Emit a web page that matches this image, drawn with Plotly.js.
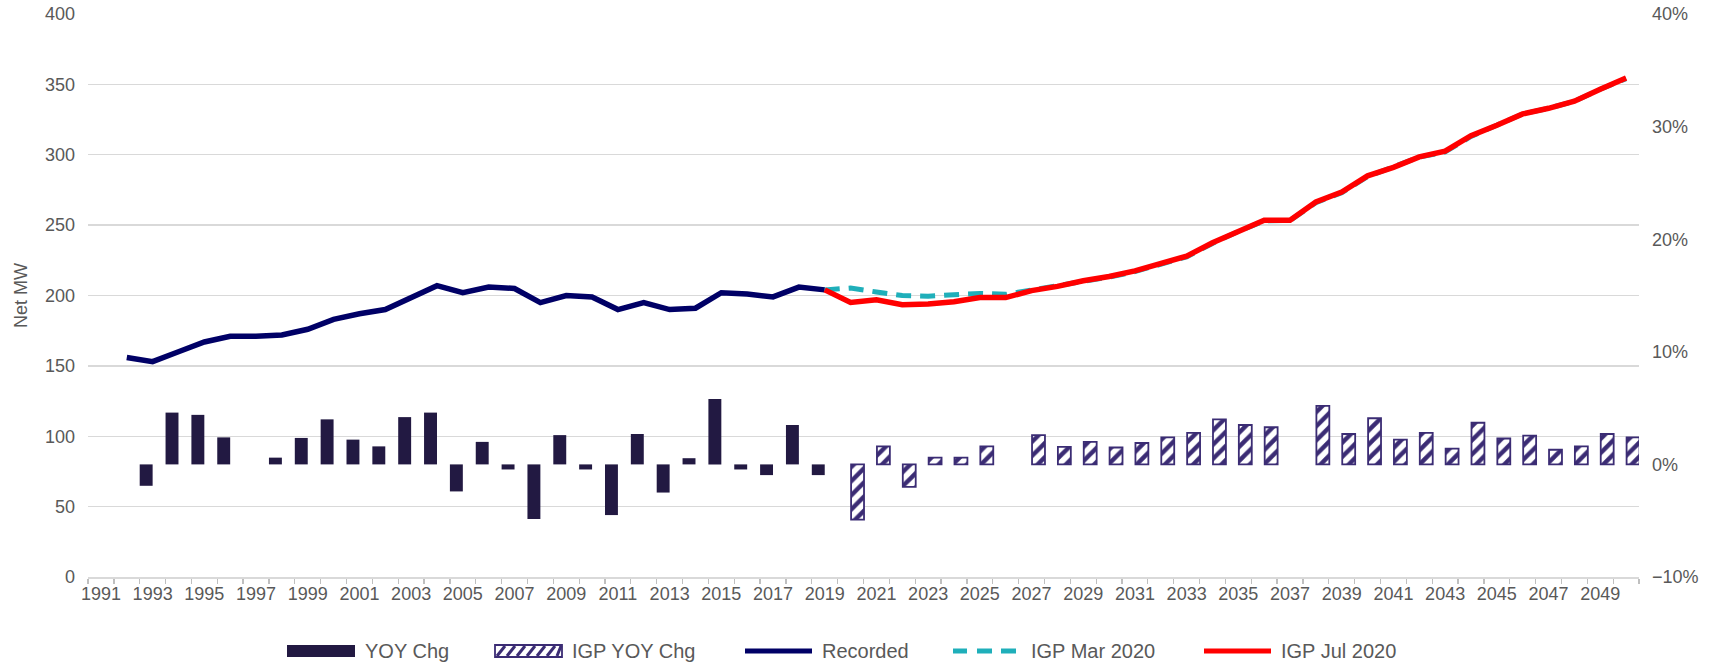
<!DOCTYPE html>
<html>
<head>
<meta charset="utf-8">
<script src="https://cdn.plot.ly/plotly-3.0.1.min.js"></script>
<style>
  html, body { margin: 0; padding: 0; background: #ffffff; }
  #chart { width: 1715px; height: 663px; }
</style>
</head>
<body>
<div id="chart"></div>
<script>
// ---------------- DATA ----------------
const years = ['1991','1992','1993','1994','1995','1996','1997','1998','1999','2000',
  '2001','2002','2003','2004','2005','2006','2007','2008','2009','2010',
  '2011','2012','2013','2014','2015','2016','2017','2018','2019','2020',
  '2021','2022','2023','2024','2025','2026','2027','2028','2029','2030',
  '2031','2032','2033','2034','2035','2036','2037','2038','2039','2040',
  '2041','2042','2043','2044','2045','2046','2047','2048','2049','2050'];

const recordedYears = ['1992','1993','1994','1995','1996','1997','1998','1999','2000','2001',
  '2002','2003','2004','2005','2006','2007','2008','2009','2010','2011',
  '2012','2013','2014','2015','2016','2017','2018','2019'];
const recorded = [156,153,160,167,171,171,172,176,183,187,
  190,198,207,202,206,205,195,200,199,190,
  195,190,191,202,201,199,206,204];

const yoyYears = ['1993','1994','1995','1996','1997','1998','1999','2000','2001','2002',
  '2003','2004','2005','2006','2007','2008','2009','2010','2011','2012',
  '2013','2014','2015','2016','2017','2018','2019'];
const yoyChg = [-1.9,4.6,4.4,2.4,null,0.6,2.35,4.0,2.2,1.6,
  4.2,4.6,-2.4,2.0,-0.45,-4.85,2.6,-0.45,-4.5,2.7,
  -2.5,0.55,5.8,-0.45,-0.95,3.5,-0.95];

const igpYoyYears = ['2020','2021','2022','2023','2024','2025','2026','2027','2028','2029',
  '2030','2031','2032','2033','2034','2035','2036','2037','2038','2039',
  '2040','2041','2042','2043','2044','2045','2046','2047','2048','2049','2050'];
const igpYoyChg = [-4.9,1.6,-2.0,0.6,0.6,1.6,null,2.6,1.55,2.0,
  1.5,1.9,2.4,2.8,4.0,3.5,3.3,null,5.2,2.7,
  4.1,2.2,2.8,1.4,3.7,2.3,2.55,1.3,1.6,2.7,2.4];

const forecastYears = ['2019','2020','2021','2022','2023','2024','2025','2026','2027','2028',
  '2029','2030','2031','2032','2033','2034','2035','2036','2037','2038',
  '2039','2040','2041','2042','2043','2044','2045','2046','2047','2048','2049','2050'];
const igpMar2020 = [204,205.3,202.5,200,199.5,200.3,201.5,200.8,204.3,207,
  210,213,217,222,227.5,237,245.5,253,253.3,266,
  273,284.5,291,298.3,302,313,321,329,333,338,346.5,354];
const igpJul2020 = [204,195,197,193.5,194,195.5,198.5,198.5,203.5,206.5,
  210.5,213.5,217.5,222.5,228,237.5,246,253.5,253.5,266.5,
  273.5,285,291,298.5,302.5,313.5,321,329,333,338,346.5,354.5];

const dividerYear = '2019';

const legendNames = ['YOY Chg', 'IGP YOY Chg', 'Recorded', 'IGP Mar 2020', 'IGP Jul 2020'];

// ---------------- STYLE ----------------
const C_SOLID = '#221942';
const C_HATCH = '#3b2c74';
const C_REC = '#000066';
const C_MAR = '#1fafba';
const C_JUL = '#ff0000';
const C_TEXT = '#595959';
const C_GRID = '#d9d9d9';
const FONT = 'Liberation Sans, Arial, sans-serif';

const traces = [
  {
    type: 'bar', name: legendNames[0], x: yoyYears, y: yoyChg, yaxis: 'y2',
    width: 0.5, offset: -0.5,
    marker: { color: C_SOLID, line: { width: 0 } }, showlegend: false
  },
  {
    type: 'bar', name: legendNames[1], x: igpYoyYears, y: igpYoyChg, yaxis: 'y2',
    width: 0.5, offset: 0.02,
    marker: {
      color: '#ffffff',
      line: { color: C_HATCH, width: 1.8 },
      pattern: { shape: '/', fgcolor: C_HATCH, bgcolor: '#ffffff', size: 10, solidity: 0.45, fillmode: 'replace' }
    },
    showlegend: false
  },
  {
    type: 'scatter', mode: 'lines', name: legendNames[2], x: recordedYears, y: recorded,
    line: { color: C_REC, width: 5.5 }, showlegend: false
  },
  {
    type: 'scatter', mode: 'lines', name: legendNames[3], x: forecastYears, y: igpMar2020,
    line: { color: C_MAR, width: 5, dash: '15px,9px' }, showlegend: false
  },
  {
    type: 'scatter', mode: 'lines', name: legendNames[4], x: forecastYears, y: igpJul2020,
    line: { color: C_JUL, width: 5.5 }, showlegend: false
  }
];

// ---------- custom legend (wide swatches like the original) ----------
const L = 88, R = 1639, T = 14, B = 577;
const W = R - L, H = B - T;
const px = X => (X - L) / W;
const py = Y => (B - Y) / H;
const legY = 651;

const shapes = [
  { type: 'line', xref: 'x', yref: 'paper', x0: dividerYear, x1: dividerYear, y0: 0.005, y1: 1,
    line: { color: C_HATCH, width: 1.6, dash: 'dot' }, layer: 'above' },
  // YOY Chg swatch
  { type: 'rect', xref: 'paper', yref: 'paper', x0: px(287), x1: px(355), y0: py(657), y1: py(645),
    fillcolor: C_SOLID, line: { width: 0 } },
  // IGP YOY Chg swatch
  { type: 'rect', xref: 'paper', yref: 'paper', x0: px(495), x1: px(562), y0: py(657), y1: py(645),
    fillcolor: '#ffffff', line: { color: C_HATCH, width: 1.8 } },
  // Recorded
  { type: 'line', xref: 'paper', yref: 'paper', x0: px(745), x1: px(812), y0: py(legY), y1: py(legY),
    line: { color: C_REC, width: 5 } },
  // IGP Mar 2020 dashes
  { type: 'line', xref: 'paper', yref: 'paper', x0: px(953), x1: px(967), y0: py(legY), y1: py(legY),
    line: { color: C_MAR, width: 5 } },
  { type: 'line', xref: 'paper', yref: 'paper', x0: px(977), x1: px(992), y0: py(legY), y1: py(legY),
    line: { color: C_MAR, width: 5 } },
  { type: 'line', xref: 'paper', yref: 'paper', x0: px(1001), x1: px(1016), y0: py(legY), y1: py(legY),
    line: { color: C_MAR, width: 5 } },
  // IGP Jul 2020
  { type: 'line', xref: 'paper', yref: 'paper', x0: px(1204), x1: px(1271), y0: py(legY), y1: py(legY),
    line: { color: C_JUL, width: 5 } }
];
// hatch stripes inside IGP YOY Chg swatch
for (let k = 0; k < 7; k++) {
  const xs = 497 + k * 10;
  shapes.push({ type: 'line', xref: 'paper', yref: 'paper',
    x0: px(Math.max(xs, 496)), x1: px(Math.min(xs + 8, 561)),
    y0: py(656), y1: py(646), line: { color: C_HATCH, width: 3 } });
}

const legTextX = [363, 570, 820, 1029, 1279];
const annotations = legendNames.map((name, i) => ({
  xref: 'paper', yref: 'paper', x: px(legTextX[i]), y: py(legY), xanchor: 'left', yanchor: 'middle',
  text: name, showarrow: false, font: { family: FONT, size: 20, color: C_TEXT }
}));

const layout = {
  width: 1715, height: 663,
  margin: { l: L, r: 1715 - R, t: T, b: 663 - B, pad: 0 },
  paper_bgcolor: '#ffffff', plot_bgcolor: '#ffffff',
  font: { family: FONT, color: C_TEXT, size: 18 },
  barmode: 'overlay',
  showlegend: false,
  xaxis: {
    type: 'category', categoryorder: 'array', categoryarray: years,
    range: [-0.5, years.length - 0.5],
    tickmode: 'array', tickvals: years,
    ticktext: years.map(y => (Number(y) % 2 === 1 ? y : '')),
    tickson: 'boundaries', ticks: 'outside', ticklen: 5, tickcolor: '#bfbfbf', tickwidth: 1.3,
    showline: true, linecolor: C_GRID, linewidth: 1.5,
    showgrid: false, zeroline: false,
    tickfont: { size: 18, color: C_TEXT }, tickangle: 0
  },
  yaxis: {
    range: [0, 400], dtick: 50, tick0: 0,
    showgrid: true, gridcolor: C_GRID, gridwidth: 1.3, zeroline: false,
    showline: false, ticks: '', ticklabelstandoff: 12,
    tickfont: { size: 18, color: C_TEXT },
    title: { text: 'Net MW', font: { size: 18, color: C_TEXT }, standoff: 12 }
  },
  yaxis2: {
    overlaying: 'y', side: 'right', range: [-10, 40], dtick: 10, tick0: 0,
    ticksuffix: '%', showgrid: false, zeroline: false, showline: false, ticks: '',
    ticklabelstandoff: 12,
    tickfont: { size: 18, color: C_TEXT }
  },
  shapes: shapes,
  annotations: annotations
};

Plotly.newPlot('chart', traces, layout, { displayModeBar: false, staticPlot: true });
</script>
</body>
</html>
